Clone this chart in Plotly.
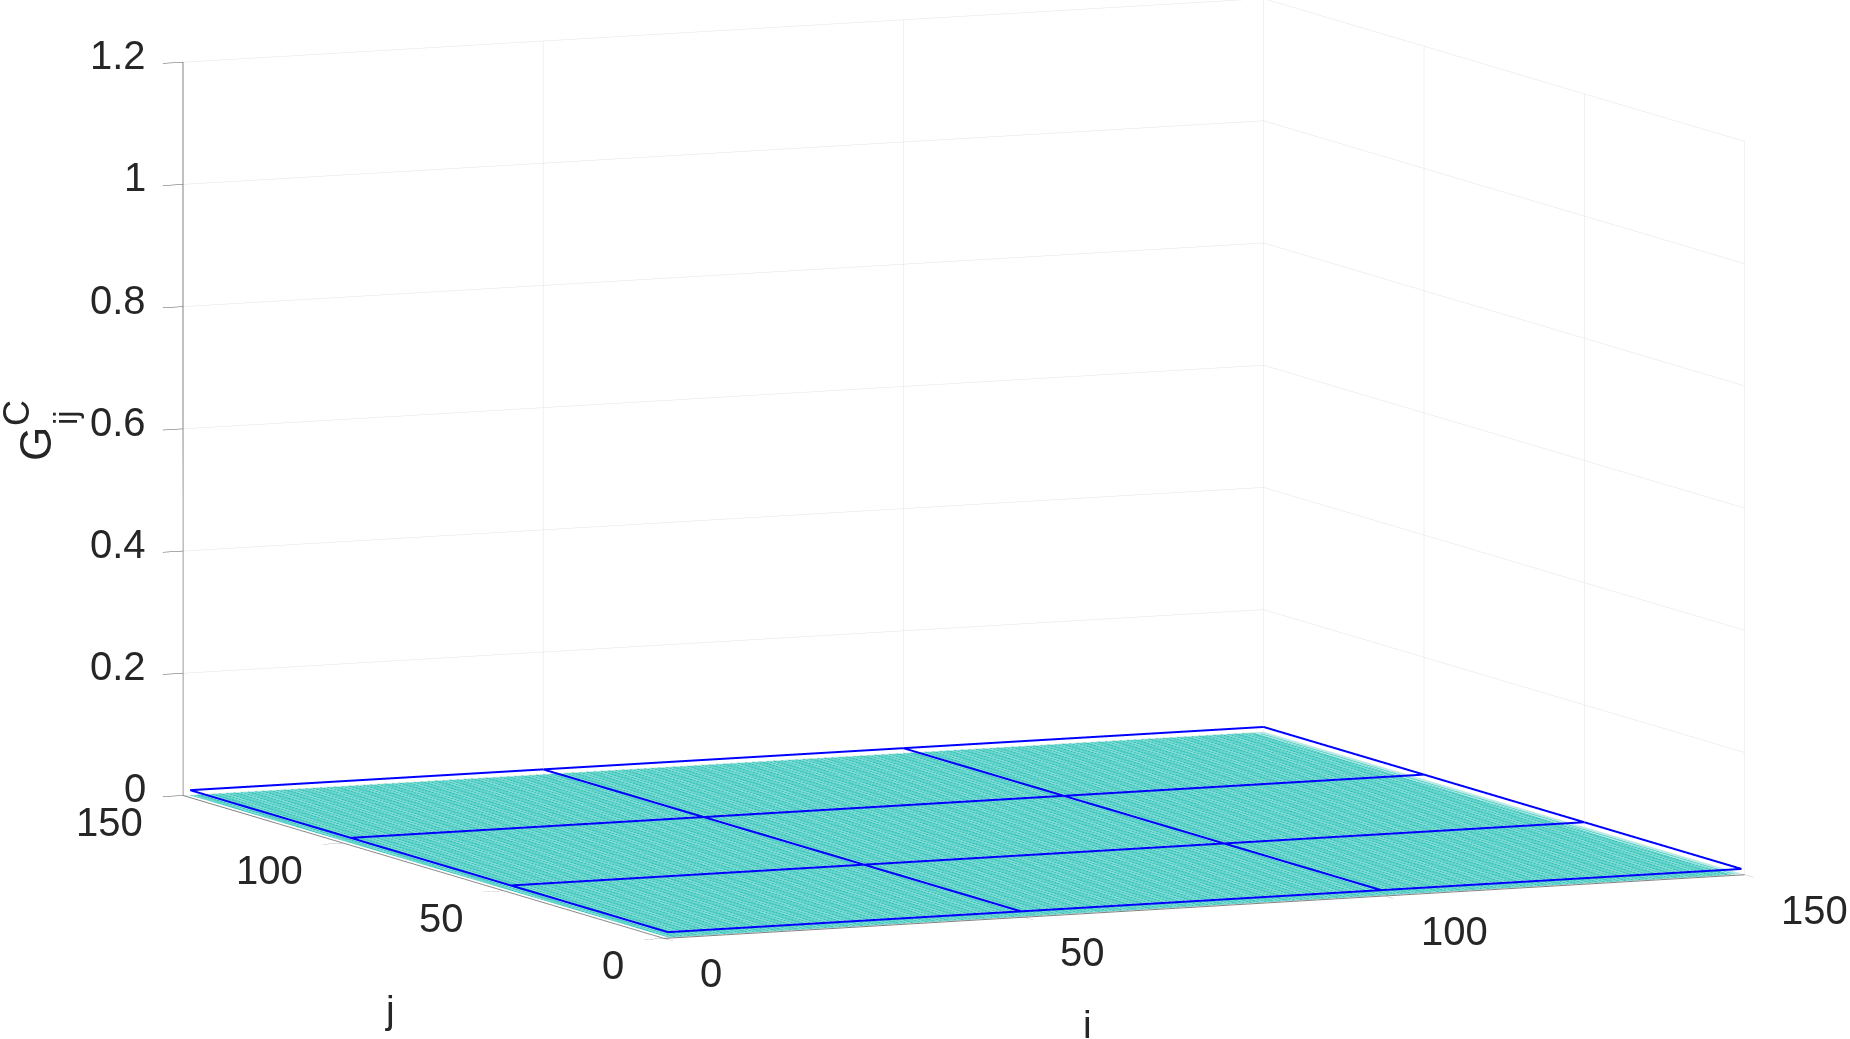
import math
import numpy as np
import plotly.graph_objects as go

# grid of the flat surface
i_values = list(range(1, 151))
j_values = list(range(1, 151))
surface_level = 0.0
line_level = 0.008
line_positions = [1, 50, 100, 150]

xy_ticks = [0, 50, 100, 150]
z_ticks = [0, 0.2, 0.4, 0.6, 0.8, 1, 1.2]
z_ticklabels = ["0", "0.2", "0.4", "0.6", "0.8", "1", "1.2"]

W, H = 1850, 1039
FONT = "Liberation Sans"
TEXT = "#262626"

z_matrix = np.full((len(j_values), len(i_values)), surface_level)

fig = go.Figure()
fig.add_trace(go.Surface(
    x=i_values, y=j_values, z=z_matrix,
    surfacecolor=z_matrix, cmin=0, cmax=1,
    colorscale=[[0, "#b5ece7"], [1, "#b5ece7"]],
    showscale=False, hoverinfo="skip",
    lighting=dict(ambient=1, diffuse=0, specular=0, fresnel=0, roughness=1),
    contours=dict(
        x=dict(show=True, start=1, end=150, size=1, color="#1fbdb2", width=1),
        y=dict(show=True, start=1, end=150, size=1, color="#1fbdb2", width=1),
    ),
))

for p in line_positions:
    fig.add_trace(go.Scatter3d(x=[i_values[0], i_values[-1]], y=[p, p], z=[line_level, line_level],
                               mode="lines", line=dict(color="#0000ff", width=4),
                               showlegend=False, hoverinfo="skip"))
    fig.add_trace(go.Scatter3d(x=[p, p], y=[j_values[0], j_values[-1]], z=[line_level, line_level],
                               mode="lines", line=dict(color="#0000ff", width=4),
                               showlegend=False, hoverinfo="skip"))


def axis(vals, rng):
    return dict(
        range=rng, autorange=False,
        tickmode="array", tickvals=vals, showticklabels=False,
        ticks="outside", ticklen=22, tickwidth=1, tickcolor="#555555",
        showgrid=True, gridcolor="#e4e4e4", gridwidth=1,
        showline=True, linecolor="#808080", linewidth=2,
        showbackground=False, zeroline=False, showspikes=False,
        title=dict(text=""),
    )


def tick_note(text, x, y, z, anchor, xshift, yshift):
    return dict(text=text, x=x, y=y, z=z, showarrow=False,
                xanchor=anchor, yanchor="middle", xshift=xshift, yshift=yshift,
                font=dict(family=FONT, size=40, color=TEXT))


# tick labels sit at the data position, pushed off the box in pixels
notes = []
for v, t in zip(z_ticks, z_ticklabels):
    notes.append(tick_note(t, 0, 150, v, "right", -35, 7))
for v in xy_ticks:
    notes.append(tick_note(str(v), v, 0, 0, "left", 34, -35))
    notes.append(tick_note(str(v), 0, v, 0, "right", -38, -27))

# view angles read from the box edges
th = math.radians(24)
el = math.radians(7.6)
R = 4.0
right = (math.cos(th), -math.sin(th), 0)
up = (math.sin(th) * math.sin(el), math.cos(th) * math.sin(el), math.cos(el))
dx, dy = -0.0748, -0.0982
center = [dx * right[k] + dy * up[k] for k in range(3)]
eye = dict(
    x=center[0] - R * math.sin(th) * math.cos(el),
    y=center[1] - R * math.cos(th) * math.cos(el),
    z=center[2] + R * math.sin(el),
)

fig.update_layout(
    width=W, height=H,
    autosize=False,
    paper_bgcolor="white",
    margin=dict(l=0, r=0, t=0, b=0),
    showlegend=False,
    scene=dict(
        domain=dict(x=[0, 1], y=[0, 1]),
        xaxis=axis(xy_ticks, [0, 150]),
        yaxis=axis(xy_ticks, [0, 150]),
        zaxis=axis(z_ticks, [0, 1.2]),
        aspectmode="manual",
        aspectratio=dict(x=2.277, y=2.277, z=1.424),
        camera=dict(projection=dict(type="orthographic"), eye=eye,
                    center=dict(x=center[0], y=center[1], z=center[2]),
                    up=dict(x=0, y=0, z=1)),
        annotations=notes,
    ),
)


def label(text, px, py, size=39, angle=0):
    fig.add_annotation(text=text, xref="paper", yref="paper", x=px / W, y=1 - py / H,
                       xanchor="center", yanchor="middle", showarrow=False, textangle=angle,
                       font=dict(family=FONT, size=size, color=TEXT))


label("i", 1087, 1024)
label("j", 390, 1009)
label("G", 35, 444, size=44, angle=-90)
label("C", 16, 413, size=36, angle=-90)
label("ij", 65, 418, size=33, angle=-90)

# body margin would push the fixed-size plot off the window
fig.write_html("out.html", config=dict(displayModeBar=False),
               post_script="document.body.style.margin='0';")
